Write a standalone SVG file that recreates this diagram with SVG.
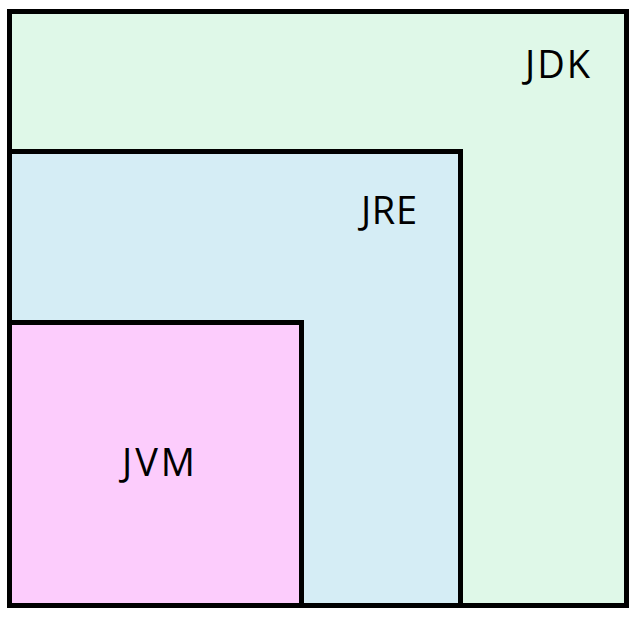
<svg xmlns="http://www.w3.org/2000/svg" width="636" height="619" viewBox="0 0 636 619">
<style>
.box{stroke:#000;stroke-width:5}
.lbl{font-family:"Open Sans","Noto Sans","Liberation Sans",sans-serif;font-size:38px;fill:#000;text-anchor:middle}
</style>
<rect width="636" height="619" fill="#fff"/>
<g id="jdk">
<rect class="box" x="9.5" y="11.5" width="617" height="594" fill="#DFF8E8"/>
<text class="lbl" x="557.5" y="78" textLength="65" lengthAdjust="spacing">JDK</text>
</g>
<g id="jre">
<rect class="box" x="9.5" y="151.5" width="451" height="454" fill="#D5EDF5"/>
<text class="lbl" x="389" y="224" textLength="56" lengthAdjust="spacing">JRE</text>
</g>
<g id="jvm">
<rect class="box" x="9.5" y="322.5" width="292" height="283" fill="#FCCCFC"/>
<text class="lbl" x="158.5" y="476" textLength="73" lengthAdjust="spacing">JVM</text>
</g>
<g id="connectors"/>
</svg>
